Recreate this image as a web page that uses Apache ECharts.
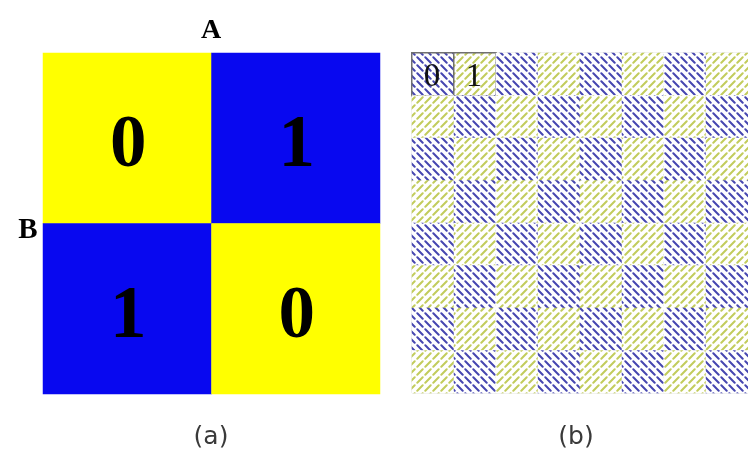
<!DOCTYPE html>
<html><head><meta charset="utf-8">
<script src="https://cdn.jsdelivr.net/npm/echarts@6/dist/echarts.min.js"></script>
<style>html,body{margin:0;padding:0;background:#fff}#c{width:748px;height:455px}</style>
</head><body><div id="c"></div>
<script>
// ---- data ----
const aCols = ['A0', 'A1'];
const aRows = ['B0', 'B1'];
const aValues = [
  [0, 1],
  [1, 0]
];
const bCols = ['c0', 'c1', 'c2', 'c3', 'c4', 'c5', 'c6', 'c7'];
const bRows = ['r0', 'r1', 'r2', 'r3', 'r4', 'r5', 'r6', 'r7'];
const bValues = [
  [0, 1, 0, 1, 0, 1, 0, 1],
  [1, 0, 1, 0, 1, 0, 1, 0],
  [0, 1, 0, 1, 0, 1, 0, 1],
  [1, 0, 1, 0, 1, 0, 1, 0],
  [0, 1, 0, 1, 0, 1, 0, 1],
  [1, 0, 1, 0, 1, 0, 1, 0],
  [0, 1, 0, 1, 0, 1, 0, 1],
  [1, 0, 1, 0, 1, 0, 1, 0]
];
const bLabels = ['0', '1'];
const panelTitles = ['(a)', '(b)'];
const axisNames = ['A', 'B'];

// ---- styles ----
const aColors = ['#ffff00', '#0808f0'];
function hatch(color, dir) {
  const s = 8;
  const cv = document.createElement('canvas');
  cv.width = s; cv.height = s;
  const g = cv.getContext('2d');
  g.fillStyle = '#ffffff';
  g.fillRect(0, 0, s, s);
  g.strokeStyle = color;
  g.lineWidth = 2;
  g.lineCap = 'round';
  g.beginPath();
  if (dir === '\\') { g.moveTo(1.3, 1.3); g.lineTo(6.7, 6.7); }
  else { g.moveTo(1.3, 6.7); g.lineTo(6.7, 1.3); }
  g.stroke();
  return { image: cv, repeat: 'repeat' };
}
const bPatterns = [hatch('#4646b0', '\\'), hatch('#c2cc5c', '/')];

const aData = [];
aValues.forEach((row, r) => row.forEach((v, c) => {
  aData.push({ value: [c, r, v], itemStyle: { color: aColors[v] } });
}));
const bData = [];
bValues.forEach((row, r) => row.forEach((v, c) => {
  const item = { value: [c, r, v], itemStyle: { color: bPatterns[v] } };
  if (r === 0 && c < bLabels.length) {
    item.itemStyle.borderColor = '#707070';
    item.itemStyle.borderWidth = 1.5;
    item.label = { show: true, formatter: bLabels[c] };
  }
  bData.push(item);
}));

const chart = echarts.init(document.getElementById('c'), null, { renderer: 'canvas' });
chart.setOption({
  backgroundColor: '#ffffff',
  animation: false,
  grid: [
    { left: 43, top: 53, width: 337, height: 341 },
    { left: 412, top: 53, width: 340, height: 340, show: true, borderColor: '#dddddd', borderWidth: 1 }
  ],
  xAxis: [
    { type: 'category', data: aCols, gridIndex: 0, show: false },
    { type: 'category', data: bCols, gridIndex: 1, show: false }
  ],
  yAxis: [
    { type: 'category', data: aRows, gridIndex: 0, show: false, inverse: true },
    { type: 'category', data: bRows, gridIndex: 1, show: false, inverse: true }
  ],
  series: [
    {
      type: 'heatmap', xAxisIndex: 0, yAxisIndex: 0, data: aData,
      label: { show: true, formatter: p => String(p.value[2]), fontFamily: 'Liberation Serif',
        fontWeight: 'bold', fontSize: 73, color: '#000', offset: [1, 9] },
      emphasis: { disabled: true }
    },
    {
      type: 'heatmap', xAxisIndex: 1, yAxisIndex: 1, data: bData,
      label: { show: false, fontFamily: 'Liberation Serif', fontSize: 33, color: '#111', offset: [-1, 3] },
      emphasis: { disabled: true }
    }
  ],
  graphic: [
    { type: 'text', x: 211, y: 31, style: { text: axisNames[0], align: 'center', verticalAlign: 'middle',
      font: 'bold 28px "Liberation Serif"', fill: '#000' } },
    { type: 'text', x: 28, y: 231, style: { text: axisNames[1], align: 'center', verticalAlign: 'middle',
      font: 'bold 29px "Liberation Serif"', fill: '#000' } },
    { type: 'text', x: 211, y: 437, style: { text: panelTitles[0], align: 'center', verticalAlign: 'middle',
      font: '25px "DejaVu Sans"', fill: '#3a3a3a' } },
    { type: 'text', x: 576, y: 437, style: { text: panelTitles[1], align: 'center', verticalAlign: 'middle',
      font: '25px "DejaVu Sans"', fill: '#3a3a3a' } }
  ]
});
</script></body></html>
